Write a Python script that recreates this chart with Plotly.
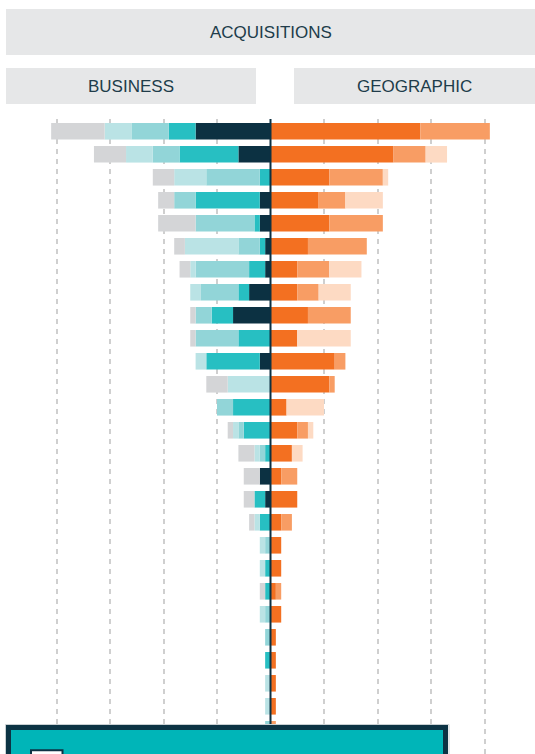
import plotly.graph_objects as go

# ---- data (one row per bar, top to bottom) ----
rows = [str(i) for i in range(1, 28)]

# Business breakdown (drawn to the left of the centre line)
business_core = [14, 6, 0, 2, 2, 1, 1, 4, 7, 0, 2, 0, 0, 0, 0, 2, 1, 0, 0, 0, 0, 0, 0, 0, 0, 0, 0]
business_adjacent = [5, 11, 2, 12, 1, 1, 3, 2, 4, 6, 10, 0, 7, 5, 1, 0, 2, 2, 0, 1, 1, 0, 0, 1, 0, 0, 0]
business_related = [7, 5, 10, 4, 11, 4, 10, 7, 3, 8, 0, 0, 3, 1, 1, 0, 0, 0, 1, 0, 0, 1, 1, 0, 0, 0, 1]
business_new = [5, 5, 6, 0, 0, 10, 1, 2, 0, 0, 2, 8, 0, 1, 1, 0, 0, 1, 1, 1, 0, 1, 0, 0, 1, 1, 0]
business_other = [10, 6, 4, 3, 7, 2, 2, 0, 1, 1, 0, 4, 0, 1, 3, 3, 2, 1, 0, 0, 1, 0, 0, 0, 0, 0, 0]

# Geographic breakdown (drawn to the right of the centre line)
geo_domestic = [28, 23, 11, 9, 11, 7, 5, 5, 7, 5, 12, 11, 3, 5, 4, 2, 5, 2, 2, 2, 1, 2, 1, 1, 1, 1, 0]
geo_regional = [13, 6, 10, 5, 10, 11, 6, 4, 8, 0, 2, 1, 0, 2, 0, 3, 0, 2, 0, 0, 1, 0, 0, 0, 0, 0, 1]
geo_global = [0, 4, 1, 7, 0, 0, 6, 6, 0, 10, 0, 0, 7, 1, 2, 0, 0, 0, 0, 0, 0, 0, 0, 0, 0, 0, 0]

grid_vals = [-40, -30, -20, -10, 10, 20, 30, 40]

# ---- styling ----
W, H = 535, 754
NAVY = "#0c3142"
TEXT = "#203c4a"
HEADER_BG = "#e6e7e8"

left_series = [
    (business_core, "#0c3142"),
    (business_adjacent, "#27bfc2"),
    (business_related, "#92d5d8"),
    (business_new, "#bae3e5"),
    (business_other, "#d4d5d7"),
]
right_series = [
    (geo_domestic, "#f37021"),
    (geo_regional, "#f89d64"),
    (geo_global, "#fddac3"),
]

fig = go.Figure()
for vals, col in left_series:
    fig.add_trace(go.Bar(
        y=rows, x=[-v for v in vals], orientation="h",
        marker=dict(color=col, line=dict(width=0)), showlegend=False,
        hoverinfo="skip"))
for vals, col in right_series:
    fig.add_trace(go.Bar(
        y=rows, x=vals, orientation="h",
        marker=dict(color=col, line=dict(width=0)), showlegend=False,
        hoverinfo="skip"))

px_per_unit = 5.35
center_px = 270.5
plot_top = 119
row0 = 131.3
row_step = 23.0

def px(x):
    return x / W

def py(y):
    return 1 - y / H

shapes = []
# header boxes
shapes.append(dict(type="rect", xref="paper", yref="paper", x0=px(6), x1=px(540),
                   y0=py(55), y1=py(9), fillcolor=HEADER_BG, line=dict(width=0), layer="below"))
shapes.append(dict(type="rect", xref="paper", yref="paper", x0=px(6), x1=px(256),
                   y0=py(104), y1=py(68), fillcolor=HEADER_BG, line=dict(width=0), layer="below"))
shapes.append(dict(type="rect", xref="paper", yref="paper", x0=px(294), x1=px(540),
                   y0=py(104), y1=py(68), fillcolor=HEADER_BG, line=dict(width=0), layer="below"))
# centre line
shapes.append(dict(type="line", xref="x", yref="paper", x0=0, x1=0,
                   y0=0, y1=py(plot_top), line=dict(color=NAVY, width=2), layer="above"))
# bottom panel
shapes.append(dict(type="rect", xref="paper", yref="paper", x0=px(5.5), x1=px(449),
                   y0=py(790), y1=py(724.5), fillcolor="rgba(0,0,0,0)",
                   line=dict(color="#c9d0d3", width=1), layer="above"))
shapes.append(dict(type="rect", xref="paper", yref="paper", x0=px(8.5), x1=px(445.5),
                   y0=py(790), y1=py(727.5), fillcolor="#00b5b8",
                   line=dict(color="#0c3344", width=5), layer="above"))
shapes.append(dict(type="rect", xref="paper", yref="paper", x0=px(31), x1=px(62.5),
                   y0=py(780), y1=py(750.3), fillcolor="#ffffff",
                   line=dict(color="#0c3344", width=2), layer="above"))

annotations = [
    dict(text="ACQUISITIONS", x=px(270.5), y=py(32.5), xref="paper", yref="paper",
         showarrow=False, xanchor="center", yanchor="middle",
         font=dict(family="Liberation Sans, Arial, sans-serif", size=17, color=TEXT)),
    dict(text="BUSINESS", x=px(131), y=py(86.5), xref="paper", yref="paper",
         showarrow=False, xanchor="center", yanchor="middle",
         font=dict(family="Liberation Sans, Arial, sans-serif", size=17, color=TEXT)),
    dict(text="GEOGRAPHIC", x=px(414.5), y=py(86.5), xref="paper", yref="paper",
         showarrow=False, xanchor="center", yanchor="middle",
         font=dict(family="Liberation Sans, Arial, sans-serif", size=17, color=TEXT)),
]

fig.update_layout(
    width=W, height=H,
    margin=dict(l=0, r=0, t=0, b=0),
    paper_bgcolor="white", plot_bgcolor="white",
    barmode="relative", bargap=0.28,
    shapes=shapes, annotations=annotations,
    xaxis=dict(
        domain=[0, 1],
        range=[-center_px / px_per_unit, (W - center_px) / px_per_unit],
        tickvals=grid_vals, showticklabels=False, ticks="",
        showgrid=True, gridcolor="#cfcfcf", gridwidth=1.5, griddash="5px,5px",
        zeroline=False, showline=False, fixedrange=True,
    ),
    yaxis=dict(
        type="category",
        domain=[0, py(plot_top)],
        range=[(H - row0) / row_step, (plot_top - row0) / row_step],
        showticklabels=False, ticks="", showgrid=False, zeroline=False,
        showline=False, fixedrange=True,
    ),
)

fig.write_html(
    "out.html",
    config={"displayModeBar": False},
    post_script="document.body.style.margin='0';document.body.style.overflow='hidden';",
)
